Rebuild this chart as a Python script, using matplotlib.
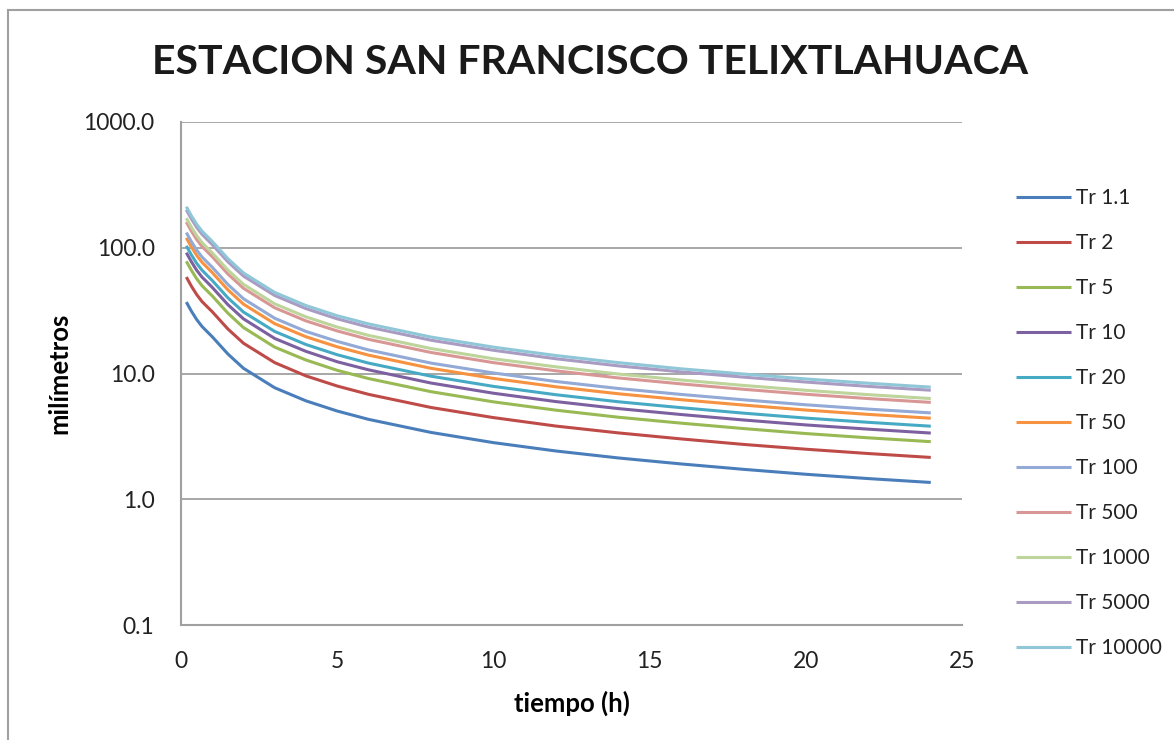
import matplotlib
matplotlib.use("Agg")
import matplotlib.pyplot as plt
from matplotlib.lines import Line2D

# duraciones (h)
tiempo = [0.17, 0.33, 0.5, 0.67, 0.83, 1, 1.5, 2, 3, 4, 5, 6, 8, 10, 12, 14, 16, 18, 20, 22, 24]

# lluvia (mm) por periodo de retorno
tr_1_1 = [37.0, 31.4, 26.9, 23.7, 21.6, 19.6, 14.3, 11.0, 7.70, 6.06, 5.03, 4.32, 3.40, 2.82, 2.42, 2.13, 1.91, 1.73, 1.58, 1.46, 1.36]
tr_2 = [58.5, 49.6, 42.5, 37.4, 34.1, 31.0, 22.6, 17.4, 12.2, 9.57, 7.95, 6.83, 5.37, 4.46, 3.82, 3.37, 3.02, 2.73, 2.50, 2.31, 2.15]
tr_5 = [78.1, 66.3, 56.8, 50.0, 45.6, 41.4, 30.2, 23.2, 16.2, 12.8, 10.6, 9.12, 7.17, 5.95, 5.11, 4.49, 4.03, 3.65, 3.33, 3.08, 2.87]
tr_10 = [91.4, 77.6, 66.4, 58.5, 53.4, 48.4, 35.3, 27.2, 19.0, 15.0, 12.4, 10.7, 8.40, 6.97, 5.98, 5.26, 4.72, 4.27, 3.90, 3.61, 3.36]
tr_20 = [103.6, 87.9, 75.3, 66.4, 60.5, 54.9, 40.0, 30.8, 21.6, 17.0, 14.1, 12.1, 9.52, 7.90, 6.78, 5.96, 5.35, 4.84, 4.42, 4.09, 3.81]
tr_50 = [119.9, 101.7, 87.2, 76.8, 70.0, 63.5, 46.3, 35.6, 24.9, 19.6, 16.3, 14.0, 11.0, 9.14, 7.84, 6.90, 6.19, 5.61, 5.12, 4.73, 4.41]
tr_100 = [132.1, 112.1, 96.0, 84.6, 77.1, 70.0, 51.1, 39.3, 27.5, 21.6, 18.0, 15.4, 12.1, 10.1, 8.64, 7.60, 6.82, 6.18, 5.64, 5.21, 4.86]
tr_500 = [160.2, 136.0, 116.5, 102.6, 93.5, 84.9, 61.9, 47.6, 33.3, 26.2, 21.8, 18.7, 14.7, 12.2, 10.5, 9.22, 8.27, 7.49, 6.84, 6.32, 5.89]
tr_1000 = [172.1, 146.0, 125.1, 110.2, 100.4, 91.1, 66.5, 51.2, 35.8, 28.2, 23.4, 20.1, 15.8, 13.1, 11.3, 9.90, 8.88, 8.04, 7.35, 6.79, 6.32]
tr_5000 = [200.2, 169.9, 145.5, 128.2, 116.9, 106.0, 77.4, 59.5, 41.7, 32.8, 27.2, 23.4, 18.4, 15.3, 13.1, 11.5, 10.3, 9.36, 8.55, 7.90, 7.36]
tr_10000 = [212.0, 179.9, 154.1, 135.8, 123.8, 112.3, 81.9, 63.0, 44.1, 34.7, 28.8, 24.8, 19.5, 16.2, 13.9, 12.2, 10.9, 9.91, 9.05, 8.37, 7.79]

etiquetas = ["Tr 1.1", "Tr 2", "Tr 5", "Tr 10", "Tr 20", "Tr 50", "Tr 100",
             "Tr 500", "Tr 1000", "Tr 5000", "Tr 10000"]
series = [tr_1_1, tr_2, tr_5, tr_10, tr_20, tr_50, tr_100, tr_500, tr_1000, tr_5000, tr_10000]
colores = ["#4A7EBB", "#BE4B48", "#98B954", "#7D60A0", "#46AAC5", "#F69240",
           "#93A9D6", "#D89795", "#BDD49B", "#A99BC2", "#8FC6D8"]

plt.rcParams["font.family"] = ["Lato", "DejaVu Sans"]

fig = plt.figure(figsize=(11.74, 7.40), dpi=100)
ax = fig.add_axes([181/1174, 1 - 625/740, (962-181)/1174, (625-122)/740])

for ys, lab, c in zip(series, etiquetas, colores):
    ax.plot(tiempo, ys, color=c, lw=2.2, label=lab, solid_capstyle="butt")

ax.set_yscale("log")
ax.set_ylim(0.1, 1000)
ax.set_xlim(0, 25)
ax.set_yticks([0.1, 1, 10, 100, 1000])
ax.set_yticklabels(["0.1", "1.0", "10.0", "100.0", "1000.0"])
ax.minorticks_off()
ax.set_xticks([0, 5, 10, 15, 20, 25])
ax.tick_params(length=0, labelsize=16.5, colors="#222222")
ax.tick_params(axis="y", pad=19)
ax.tick_params(axis="x", pad=19)
ax.grid(axis="y", color="#A0A0A0", lw=1.3)
ax.set_axisbelow(True)
for s in ["top", "right"]:
    ax.spines[s].set_visible(False)
for s in ["left", "bottom"]:
    ax.spines[s].set_color("#A0A0A0")
    ax.spines[s].set_linewidth(1.5)

ax.set_xlabel("tiempo (h)", fontsize=18.5, fontweight="bold", labelpad=13)
ax.set_ylabel("milímetros", fontsize=18.5, fontweight="bold", labelpad=9)

fig.text(590/1174, 1 - 63/740, "ESTACION SAN FRANCISCO TELIXTLAHUACA",
         ha="center", va="center", fontsize=29.5, fontweight="bold", color="#1A1A1A")

leg = fig.legend(loc="upper left", bbox_to_anchor=(1008/1174, 1 - 180/740),
                 frameon=False, fontsize=15, handlelength=2.6, handletextpad=0.25,
                 labelspacing=1.2, borderaxespad=0)
for t in leg.get_texts():
    t.set_color("#222222")

# marco exterior del grafico
fig.add_artist(Line2D([8/1174, 8/1174], [0, 1 - 10/740], transform=fig.transFigure,
                      color="#A0A0A0", lw=1.5))
fig.add_artist(Line2D([8/1174, 1], [1 - 10/740, 1 - 10/740], transform=fig.transFigure,
                      color="#A0A0A0", lw=1.5))

fig.savefig("out.png", dpi=100)
